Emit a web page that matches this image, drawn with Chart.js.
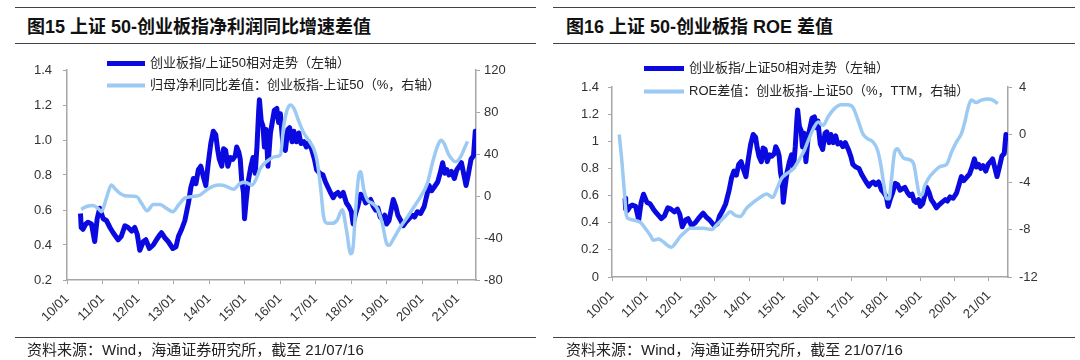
<!DOCTYPE html>
<html>
<head>
<meta charset="utf-8">
<script src="https://cdn.jsdelivr.net/npm/chart.js@4.4.1/dist/chart.umd.min.js"></script>
<style>
  html, body { margin: 0; padding: 0; background: #fff; }
  #page { position: relative; width: 1080px; height: 360px; overflow: hidden; background: #fff; }
  .rule { position: absolute; height: 0; border-top: 1.5px solid #444; }
  .title { position: absolute; top: 16px; font: bold 18px 'Liberation Sans', 'Noto Sans CJK SC', sans-serif; color: #111; line-height: 22px; white-space: nowrap; }
  .foot { position: absolute; top: 341px; font: 15px 'Liberation Sans', 'Noto Sans CJK SC', sans-serif; color: #222; line-height: 18px; white-space: nowrap; }
  canvas { position: absolute; top: 0; }
</style>
</head>
<body>
<div id="page">
  <div class="rule" style="left:15px; width:521px; top:7px"></div>
  <div class="title" style="left:27px">图15 上证 50-创业板指净利润同比增速差值</div>
  <div class="rule" style="left:15px; width:521px; top:43px"></div>
  <canvas id="c1" width="540" height="338" style="left:0"></canvas>
  <div class="rule" style="left:15px; width:521px; top:337px"></div>
  <div class="foot" style="left:27px">资料来源：Wind，海通证券研究所，截至 21/07/16</div>

  <div class="rule" style="left:553px; width:522px; top:7px"></div>
  <div class="title" style="left:566px">图16 上证 50-创业板指 ROE 差值</div>
  <div class="rule" style="left:553px; width:522px; top:43px"></div>
  <canvas id="c2" width="540" height="338" style="left:540px"></canvas>
  <div class="rule" style="left:553px; width:522px; top:337px"></div>
  <div class="foot" style="left:566px">资料来源：Wind，海通证券研究所，截至 21/07/16</div>
</div>
<script>
// ---------- data ----------
const yearTickValues = [2010,2011,2012,2013,2014,2015,2016,2017,2018,2019,2020,2021];
const yearTickLabels = ['10/01','11/01','12/01','13/01','14/01','15/01','16/01','17/01','18/01','19/01','20/01','21/01'];

const ratioTicksA = [0.2,0.4,0.6,0.8,1.0,1.2,1.4];
const ratioLabelsA = ['0.2','0.4','0.6','0.8','1.0','1.2','1.4'];
const profitTicks = [-80,-40,0,40,80,120];
const profitLabels = ['-80','-40','0','40','80','120'];
const ratioTicksB = [0,0.2,0.4,0.6,0.8,1.0,1.2,1.4];
const ratioLabelsB = ['0','0.2','0.4','0.6','0.8','1','1.2','1.4'];
const roeTicks = [-12,-8,-4,0,4];
const roeLabels = ['-12','-8','-4','0','4'];

const ratioName = '创业板指/上证50相对走势（左轴）';
const profitName = '归母净利同比差值：创业板指-上证50（%，右轴）';
const roeName = 'ROE差值：创业板指-上证50（%，TTM，右轴）';

// 创业板指/上证50相对走势
const ratioDates = [2010.38,2010.40,2010.45,2010.53,2010.59,2010.69,2010.78,2010.85,2010.92,2011.02,
  2011.11,2011.21,2011.30,2011.44,2011.53,2011.63,2011.72,2011.82,2011.91,2011.98,
  2012.05,2012.15,2012.22,2012.32,2012.43,2012.52,2012.62,2012.66,2012.76,2012.85,
  2012.98,2013.07,2013.14,2013.23,2013.32,2013.42,2013.49,2013.56,2013.63,2013.70,
  2013.77,2013.84,2013.91,2013.98,2014.05,2014.12,2014.19,2014.24,2014.29,2014.36,
  2014.41,2014.47,2014.53,2014.60,2014.67,2014.74,2014.78,2014.84,2014.88,2014.92,
  2014.97,2015.00,2015.05,2015.11,2015.18,2015.24,2015.30,2015.35,2015.40,2015.42,
  2015.47,2015.52,2015.56,2015.61,2015.66,2015.73,2015.84,2015.91,2015.96,2016.01,
  2016.08,2016.15,2016.22,2016.27,2016.34,2016.39,2016.46,2016.53,2016.59,2016.67,
  2016.74,2016.81,2016.90,2016.97,2017.03,2017.12,2017.21,2017.28,2017.35,2017.42,
  2017.50,2017.56,2017.63,2017.70,2017.78,2017.87,2017.94,2018.01,2018.06,2018.13,
  2018.19,2018.27,2018.34,2018.41,2018.48,2018.55,2018.63,2018.69,2018.76,2018.82,
  2018.88,2018.95,2019.00,2019.07,2019.14,2019.19,2019.26,2019.32,2019.40,2019.47,
  2019.54,2019.63,2019.73,2019.79,2019.87,2019.96,2020.06,2020.13,2020.20,2020.27,
  2020.34,2020.44,2020.51,2020.58,2020.64,2020.70,2020.76,2020.83,2020.91,2020.98,
  2021.05,2021.11,2021.17,2021.24,2021.30,2021.38,2021.45,2021.50,2021.54];
const ratioValues = [0.58,0.50,0.49,0.52,0.53,0.52,0.42,0.55,0.61,0.55,
  0.54,0.50,0.47,0.43,0.45,0.51,0.50,0.48,0.50,0.46,
  0.37,0.42,0.43,0.38,0.40,0.43,0.46,0.47,0.44,0.42,
  0.38,0.39,0.45,0.49,0.54,0.64,0.73,0.78,0.75,0.83,
  0.85,0.79,0.74,0.87,0.98,1.05,1.03,0.95,0.89,0.85,
  0.95,0.94,0.85,0.90,0.89,0.91,0.96,0.93,0.89,0.77,
  0.70,0.55,0.66,0.77,0.85,0.90,0.81,0.96,1.17,1.23,
  1.11,1.08,0.96,1.06,0.85,1.04,1.17,1.18,1.10,1.15,
  0.98,0.94,1.06,1.07,0.99,1.05,0.99,1.04,0.98,0.99,
  0.96,0.99,0.94,0.89,0.83,0.81,0.80,0.76,0.73,0.70,
  0.67,0.69,0.70,0.68,0.70,0.64,0.62,0.59,0.52,0.58,
  0.62,0.69,0.68,0.64,0.65,0.66,0.62,0.60,0.61,0.56,
  0.55,0.57,0.52,0.54,0.61,0.66,0.62,0.57,0.54,0.51,
  0.53,0.55,0.57,0.56,0.59,0.58,0.62,0.68,0.74,0.71,
  0.73,0.76,0.81,0.87,0.81,0.83,0.80,0.82,0.78,0.83,
  0.85,0.87,0.81,0.74,0.80,0.89,0.91,1.05,1.00];

// 归母净利同比差值（%）
const profitDates = [2010.40,2010.55,2010.73,2010.88,2010.97,2011.11,2011.25,2011.35,2011.49,2011.68,
  2011.96,2012.10,2012.26,2012.43,2012.62,2012.81,2012.98,2013.14,2013.32,2013.51,
  2013.75,2013.94,2014.12,2014.31,2014.50,2014.69,2014.88,2015.02,2015.21,2015.35,
  2015.44,2015.63,2015.87,2016.01,2016.10,2016.20,2016.29,2016.39,2016.53,2016.67,
  2016.81,2016.95,2017.04,2017.14,2017.23,2017.33,2017.47,2017.61,2017.75,2017.87,
  2017.99,2018.06,2018.13,2018.22,2018.27,2018.36,2018.46,2018.60,2018.74,2018.88,
  2019.00,2019.07,2019.21,2019.40,2019.59,2019.78,2019.96,2020.15,2020.29,2020.43,
  2020.53,2020.62,2020.76,2020.95,2021.09,2021.19,2021.28];
const profitValues = [-12.7,-10,-9,-12,-15,-2,10.5,7,2.5,0,
  -0.6,-7,-14,-8,-8,-12,-15,-8.6,-2,-0.6,
  1,6,9.5,10.5,9,6.5,12,13,10.5,18,
  26,33,37.5,39,66,82,86.7,83.5,71,60,
  53,45,34,9,-20,-26,-26,-23,-13,-32,
  -55,-48,-13,20,23,6,-3.8,-7,-12,-26,
  -45,-47,-40,-29,-20,-10,-0.6,12,31,47,
  53,50,39,32.7,37.5,45,52];

// ROE差值（%，TTM）
const roeDates = [2010.21,2010.29,2010.36,2010.42,2010.49,2010.63,2010.83,2010.97,2011.12,2011.21,
  2011.36,2011.50,2011.60,2011.73,2011.84,2011.99,2012.14,2012.28,2012.48,2012.67,
  2012.91,2013.06,2013.20,2013.35,2013.45,2013.59,2013.74,2013.93,2014.13,2014.32,
  2014.51,2014.69,2014.81,2014.95,2015.10,2015.29,2015.49,2015.62,2015.73,2015.88,
  2016.02,2016.16,2016.31,2016.50,2016.69,2016.88,2017.03,2017.17,2017.32,2017.46,
  2017.61,2017.75,2017.85,2017.94,2018.02,2018.09,2018.15,2018.25,2018.33,2018.42,
  2018.52,2018.66,2018.81,2018.90,2018.98,2019.05,2019.12,2019.24,2019.38,2019.58,
  2019.77,2019.91,2020.06,2020.20,2020.30,2020.39,2020.49,2020.63,2020.78,2020.97,
  2021.12,2021.26];
const roeValues = [0.0,-2.3,-4.8,-6.8,-7.1,-7.2,-7.4,-7.9,-8.5,-8.9,
  -8.8,-9.05,-9.3,-9.5,-9.2,-8.6,-8.2,-7.9,-7.9,-7.9,
  -8.0,-7.6,-7.2,-6.75,-6.5,-6.8,-6.9,-6.2,-5.7,-5.3,
  -5.0,-5.3,-4.6,-3.7,-3.3,-2.9,-2.0,-1.3,-0.5,0.5,
  1.05,0.77,1.5,2.2,2.5,2.5,2.3,1.3,0.07,-0.35,
  -0.6,-1.3,-2.6,-4.3,-5.4,-5.4,-4.0,-1.5,-1.2,-1.6,
  -2.0,-2.1,-2.5,-4.0,-5.1,-5.1,-4.4,-3.7,-3.2,-2.7,
  -2.5,-1.5,-0.6,0.07,1.05,2.2,2.9,2.7,2.9,3.0,
  2.9,2.6];

// ---------- styling ----------
const DARK = '#0a0ae0';
const LIGHT = '#9ccaf2';
const AXIS = '#a6a6a6';
const TEXT = '#333333';
Chart.defaults.font.family = "'Liberation Sans', Arial, sans-serif";
Chart.defaults.font.size = 13;
Chart.defaults.color = TEXT;

const pts = (xs, ys) => xs.map((x, i) => ({ x: x, y: ys[i] }));

const inlineLegend = {
  id: 'inlineLegend',
  afterDraw(chart, args, opts) {
    const ctx = chart.ctx;
    ctx.save();
    chart.data.datasets.forEach((ds, i) => {
      const y = opts.ys[i];
      ctx.strokeStyle = ds.borderColor;
      ctx.lineWidth = opts.widths[i];
      ctx.lineCap = 'butt';
      ctx.beginPath();
      ctx.moveTo(opts.x0, y);
      ctx.lineTo(opts.x1, y);
      ctx.stroke();
      ctx.fillStyle = '#222';
      ctx.font = "13px 'Liberation Sans', 'Noto Sans CJK SC', sans-serif";
      ctx.textBaseline = 'middle';
      ctx.textAlign = 'left';
      ctx.fillText(ds.label, opts.textX, y);
    });
    ctx.restore();
  }
};

function fixedTicks(values) {
  return (scale) => { scale.ticks = values.map(v => ({ value: v })); };
}

function makeChart(id, cfg) {
  return new Chart(document.getElementById(id), {
    type: 'line',
    data: {
      datasets: [
        { label: ratioName, data: pts(ratioDates, ratioValues), borderColor: DARK, borderWidth: 5,
          pointRadius: 0, tension: 0, yAxisID: 'y', order: 1, borderJoinStyle: 'round' },
        { label: cfg.name2, data: pts(cfg.dates2, cfg.values2), borderColor: LIGHT, borderWidth: 3.5,
          pointRadius: 0, cubicInterpolationMode: 'monotone', yAxisID: 'y1', order: 0 }
      ]
    },
    options: {
      responsive: false,
      animation: false,
      layout: { padding: { top: cfg.top, left: 0, right: 0, bottom: 0 } },
      plugins: {
        legend: { display: false },
        tooltip: { enabled: false },
        inlineLegend: cfg.legend
      },
      scales: {
        x: {
          type: 'linear', min: 2010, max: cfg.xmax,
          afterBuildTicks: fixedTicks(yearTickValues),
          afterFit: (s) => { s.height = cfg.xh; },
          grid: { drawOnChartArea: false, drawTicks: true, tickLength: 4, color: AXIS, lineWidth: 1 },
          border: { color: AXIS, width: 1.5 },
          ticks: { autoSkip: false, maxRotation: 45, minRotation: 45, padding: 7, font: { size: 13 },
            callback: (v, i) => yearTickLabels[i] }
        },
        y: {
          position: 'left', min: cfg.yMin, max: cfg.yMax,
          afterBuildTicks: fixedTicks(cfg.yTicks),
          afterFit: (s) => { s.width = cfg.yw; },
          grid: { drawOnChartArea: false, drawTicks: true, tickLength: 4, color: AXIS },
          border: { color: AXIS, width: 1.5 },
          ticks: { padding: cfg.ypad, callback: (v, i) => cfg.yLabels[i] }
        },
        y1: {
          position: 'right', min: cfg.y1Min, max: cfg.y1Max,
          afterBuildTicks: fixedTicks(cfg.y1Ticks),
          afterFit: (s) => { s.width = cfg.y1w; },
          grid: { drawOnChartArea: false, drawTicks: true, tickLength: 4, color: AXIS },
          border: { color: AXIS, width: 1.5 },
          ticks: { padding: cfg.y1pad, callback: (v, i) => cfg.y1Labels[i] }
        }
      }
    },
    plugins: [inlineLegend]
  });
}

makeChart('c1', {
  name2: profitName, dates2: profitDates, values2: profitValues,
  top: 70, xh: 58, yw: 67, y1w: 64, xmax: 2021.52,
  yMin: 0.2, yMax: 1.4, yTicks: ratioTicksA, yLabels: ratioLabelsA, ypad: 11,
  y1Min: -80, y1Max: 120, y1Ticks: profitTicks, y1Labels: profitLabels, y1pad: 4,
  legend: { x0: 107, x1: 145, textX: 150, ys: [63.5, 85.5], widths: [5, 4] }
});

makeChart('c2', {
  name2: roeName, dates2: roeDates, values2: roeValues,
  top: 87, xh: 61, yw: 72, y1w: 72, xmax: 2021.56,
  yMin: 0, yMax: 1.4, yTicks: ratioTicksB, yLabels: ratioLabelsB, ypad: 9,
  y1Min: -12, y1Max: 4, y1Ticks: roeTicks, y1Labels: roeLabels, y1pad: 7,
  legend: { x0: 104, x1: 144, textX: 149, ys: [68.5, 91.5], widths: [5, 4] }
});
</script>
</body>
</html>
